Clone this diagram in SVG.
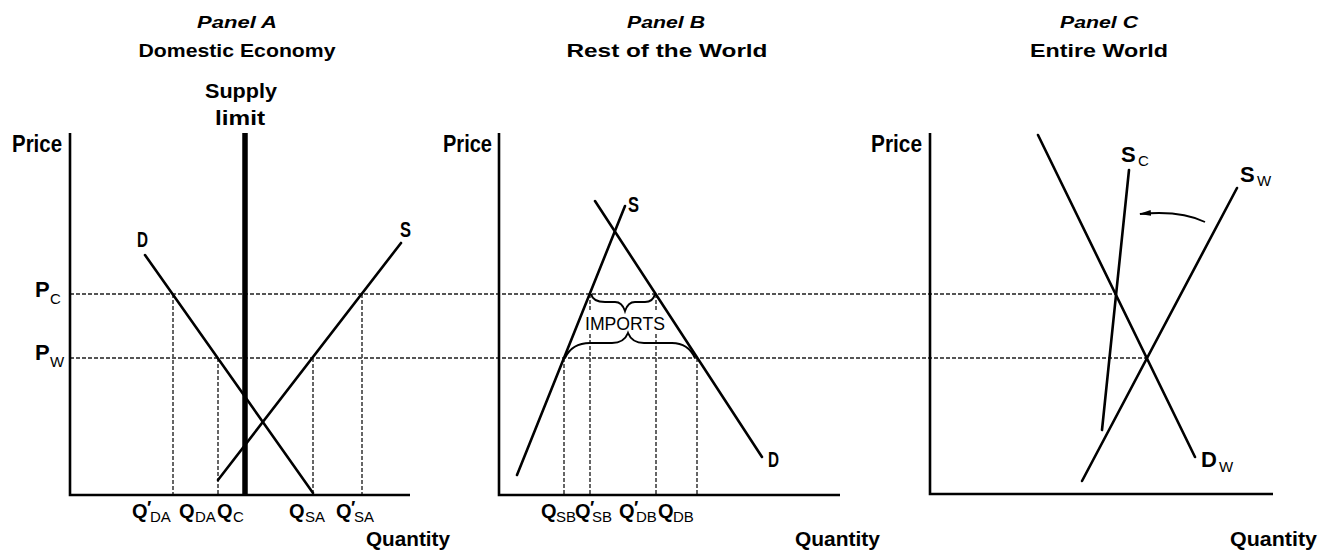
<svg xmlns="http://www.w3.org/2000/svg" width="1319" height="552" viewBox="0 0 1319 552">
<style>
text{font-family:"Liberation Sans","DejaVu Sans",sans-serif;fill:#000}
.b{font-weight:bold}
.it{font-weight:bold;font-style:italic;font-size:17px}
.h{font-weight:bold;font-size:19px}
.pr{font-weight:bold;font-size:24px}
.lab{font-weight:bold;font-size:22px}
.q{font-weight:bold;font-size:20px}
.sub{font-weight:normal;font-size:15px}
.prm{font-weight:bold;font-size:18px}
.qty{font-weight:bold;font-size:21px}
.imp{font-weight:normal;font-size:18px}
.ax{stroke:#000;stroke-width:2.6;fill:none}
.crv{stroke:#000;stroke-width:2.6;fill:none;stroke-linecap:round}
.dash{stroke:#555;stroke-width:1.8;stroke-dasharray:4 2;fill:none}
.brace{stroke:#000;stroke-width:2;fill:none}
</style>
<defs>
<marker id="ah" viewBox="0 0 12 7" refX="11" refY="3.5" markerWidth="12" markerHeight="7" markerUnits="userSpaceOnUse" orient="auto">
<path d="M0,0.5 L12,3.5 L0,6.5 z" fill="#000"/>
</marker>
</defs>

<g id="guides">
<line class="dash" x1="70" y1="294" x2="1115" y2="294"/>
<line class="dash" x1="70" y1="358" x2="1147" y2="358"/>
<line class="dash" x1="173" y1="294" x2="173" y2="495"/>
<line class="dash" x1="218" y1="358" x2="218" y2="495"/>
<line class="dash" x1="313" y1="358" x2="313" y2="495"/>
<line class="dash" x1="362" y1="294" x2="362" y2="495"/>
<line class="dash" x1="564" y1="358" x2="564" y2="495"/>
<line class="dash" x1="590" y1="294" x2="590" y2="310"/>
<line class="dash" x1="590" y1="334" x2="590" y2="495"/>
<line class="dash" x1="656" y1="294" x2="656" y2="310"/>
<line class="dash" x1="656" y1="334" x2="656" y2="495"/>
<line class="dash" x1="697" y1="358" x2="697" y2="495"/>
</g>

<g id="panel-a">
<text class="it" x="237" y="28" text-anchor="middle" textLength="80" lengthAdjust="spacingAndGlyphs">Panel A</text>
<text class="h" x="237" y="57" text-anchor="middle" textLength="197" lengthAdjust="spacingAndGlyphs">Domestic Economy</text>
<text class="b" x="241" y="98" font-size="20" text-anchor="middle" textLength="72" lengthAdjust="spacingAndGlyphs">Supply</text>
<text class="b" x="240" y="125" font-size="20" text-anchor="middle" textLength="50" lengthAdjust="spacingAndGlyphs">limit</text>
<text class="pr" x="12" y="152" textLength="50" lengthAdjust="spacingAndGlyphs">Price</text>
<path class="ax" d="M70,133 V495 H410"/>
<line x1="245" y1="133" x2="245" y2="496" stroke="#000" stroke-width="5.5"/>
<line class="crv" x1="145" y1="255" x2="313" y2="493"/>
<line class="crv" x1="218" y1="480" x2="401" y2="243"/>
<text class="lab" x="137" y="247" textLength="11" lengthAdjust="spacingAndGlyphs">D</text>
<text class="lab" x="400" y="237" textLength="11" lengthAdjust="spacingAndGlyphs">S</text>
<text><tspan class="lab" x="35" y="297">P</tspan><tspan class="sub" x="50" y="304" font-size="18">C</tspan></text>
<text><tspan class="lab" x="35" y="360">P</tspan><tspan class="sub" x="50" y="367" font-size="17">W</tspan></text>
<text><tspan class="q" x="132" y="518">Q</tspan><tspan class="prm" x="147" y="514">′</tspan><tspan class="sub" x="150" y="522">DA</tspan></text>
<text><tspan class="q" x="179" y="518">Q</tspan><tspan class="sub" x="195" y="522">DA</tspan></text>
<text><tspan class="q" x="217" y="518">Q</tspan><tspan class="sub" x="233" y="522">C</tspan></text>
<text><tspan class="q" x="289" y="518">Q</tspan><tspan class="sub" x="305" y="522">SA</tspan></text>
<text><tspan class="q" x="336" y="518">Q</tspan><tspan class="prm" x="351" y="514">′</tspan><tspan class="sub" x="354" y="522">SA</tspan></text>
<text class="qty" x="366" y="546" textLength="84" lengthAdjust="spacingAndGlyphs">Quantity</text>
</g>

<g id="panel-b">
<text class="it" x="666" y="28" text-anchor="middle" textLength="78" lengthAdjust="spacingAndGlyphs">Panel B</text>
<text class="h" x="667" y="57" text-anchor="middle" textLength="201" lengthAdjust="spacingAndGlyphs">Rest of the World</text>
<text class="pr" x="443" y="152" textLength="49" lengthAdjust="spacingAndGlyphs">Price</text>
<path class="ax" d="M499,133 V495 H840"/>
<line class="crv" x1="517" y1="475" x2="625" y2="206"/>
<line class="crv" x1="595" y1="201" x2="762" y2="457"/>
<text class="lab" x="628" y="212" textLength="11" lengthAdjust="spacingAndGlyphs">S</text>
<text class="lab" x="768" y="467" textLength="11" lengthAdjust="spacingAndGlyphs">D</text>
<path class="brace" d="M591,294 Q593,302 605,302 L615,302 Q622,302 625,311 Q628,302 635,302 L645,302 Q653,302 655,294"/>
<path class="brace" d="M565,358 Q572,343 590,343 L612,343 Q624,343 628,333 Q632,343 644,343 L672,343 Q688,343 695,358"/>
<text class="imp" x="625" y="330" text-anchor="middle" textLength="80" lengthAdjust="spacingAndGlyphs">IMPORTS</text>
<text><tspan class="q" x="541" y="518">Q</tspan><tspan class="sub" x="556" y="522">SB</tspan></text>
<text><tspan class="q" x="575" y="518">Q</tspan><tspan class="prm" x="590" y="514">′</tspan><tspan class="sub" x="592" y="522">SB</tspan></text>
<text><tspan class="q" x="619" y="518">Q</tspan><tspan class="prm" x="634" y="514">′</tspan><tspan class="sub" x="636" y="522">DB</tspan></text>
<text><tspan class="q" x="658" y="518">Q</tspan><tspan class="sub" x="673" y="522">DB</tspan></text>
<text class="qty" x="795" y="546" textLength="85" lengthAdjust="spacingAndGlyphs">Quantity</text>
</g>

<g id="panel-c">
<text class="it" x="1099" y="28" text-anchor="middle" textLength="78" lengthAdjust="spacingAndGlyphs">Panel C</text>
<text class="h" x="1099" y="57" text-anchor="middle" textLength="138" lengthAdjust="spacingAndGlyphs">Entire World</text>
<text class="pr" x="871" y="152" textLength="51" lengthAdjust="spacingAndGlyphs">Price</text>
<path class="ax" d="M930,133 V494 H1273"/>
<line class="crv" x1="1038" y1="135" x2="1195" y2="457"/>
<line class="crv" x1="1102" y1="430" x2="1129" y2="170"/>
<line class="crv" x1="1082" y1="481" x2="1237" y2="188"/>
<path d="M1205,222 Q1180,210 1140,214" stroke="#000" stroke-width="1.8" fill="none" marker-end="url(#ah)"/>
<text><tspan class="lab" x="1121" y="162">S</tspan><tspan class="sub" x="1138" y="166" font-size="16">C</tspan></text>
<text><tspan class="lab" x="1240" y="182">S</tspan><tspan class="sub" x="1257" y="186" font-size="16">W</tspan></text>
<text><tspan class="lab" x="1201" y="467">D</tspan><tspan class="sub" x="1219" y="472" font-size="16">W</tspan></text>
<text class="qty" x="1230" y="546" textLength="87" lengthAdjust="spacingAndGlyphs">Quantity</text>
</g>
</svg>
